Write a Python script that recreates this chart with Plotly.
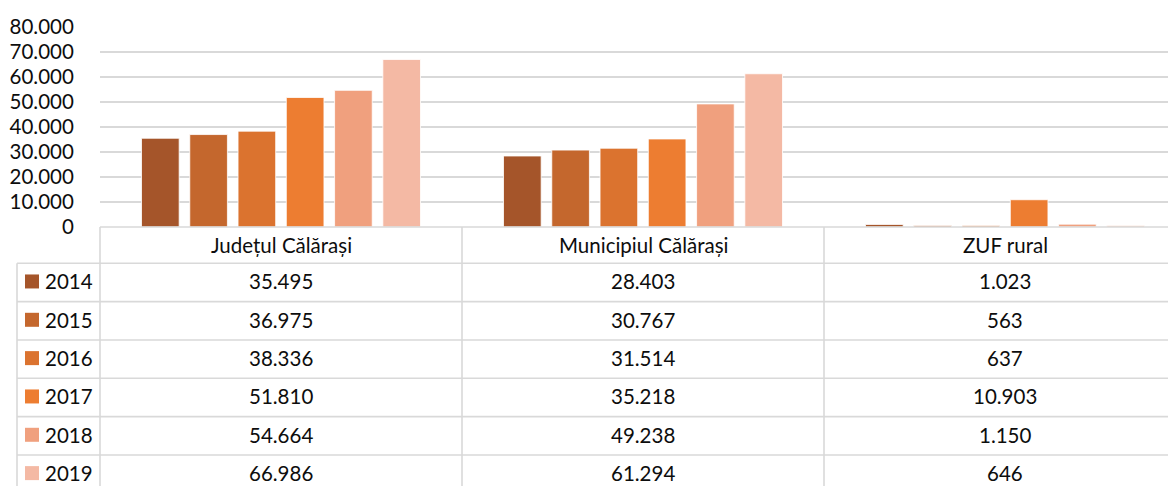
import plotly.graph_objects as go

categories = ["Județul Călărași", "Municipiul Călărași", "ZUF rural"]
years = ["2014", "2015", "2016", "2017", "2018", "2019"]
v2014 = [35495, 28403, 1023]
v2015 = [36975, 30767, 563]
v2016 = [38336, 31514, 637]
v2017 = [51810, 35218, 10903]
v2018 = [54664, 49238, 1150]
v2019 = [66986, 61294, 646]
series = [v2014, v2015, v2016, v2017, v2018, v2019]
colors = ["#A5552A", "#C4672D", "#DB732F", "#ED7D31", "#F0A07E", "#F4B9A4"]
yticks = [0, 10000, 20000, 30000, 40000, 50000, 60000, 70000, 80000]

FONT = "Lato"
TXT = "#0D0D0D"
GRID = "#D9D9D9"

# the page body adds an 8px margin; build the figure in page pixels and shift
OFF = 8
W_FIG, H_FIG = 1176, 486 - OFF
L, T, PW, PH = 100, 27, 1084, 200   # page-pixel geometry of the plot area
CATW = 362.0
xr = [-0.5, -0.5 + PW / CATW]


def px(x):
    return (x - L) / PW


def py(y):
    return (T + PH - y) / PH


def fmt(v):
    return f"{v:,}".replace(",", ".")


fig = go.Figure()
for yr, vals, c in zip(years, series, colors):
    fig.add_trace(go.Bar(
        x=list(range(len(categories))), y=vals, name=yr,
        marker=dict(color=c, line=dict(color="white", width=0.8)),
        showlegend=False,
    ))

shapes = []
annotations = []

header_top = 227
header_bot = 263.3
row_h = 38.33
n_rows = len(years)
row_lines = [header_bot + i * row_h for i in range(n_rows + 1)]
bottom = 500
col_edges_x = [(-0.5 + i) for i in range(len(categories) + 1)]
col_px = [L + (e - xr[0]) * CATW for e in col_edges_x]

line = dict(color=GRID, width=1.6)
shapes.append(dict(type="line", xref="paper", yref="paper", x0=px(L), x1=px(1200),
                   y0=py(header_top), y1=py(header_top), line=line))
for yl in row_lines:
    shapes.append(dict(type="line", xref="paper", yref="paper", x0=px(17), x1=px(1200),
                       y0=py(yl), y1=py(yl), line=line))
shapes.append(dict(type="line", xref="paper", yref="paper", x0=px(17), x1=px(17),
                   y0=py(header_bot), y1=py(bottom), line=line))
for cx in col_px:
    shapes.append(dict(type="line", xref="paper", yref="paper", x0=px(cx), x1=px(cx),
                       y0=py(header_top), y1=py(bottom), line=line))

for i, cat in enumerate(categories):
    cx = L + (i - xr[0]) * CATW
    annotations.append(dict(x=px(cx), y=py((header_top + header_bot) / 2), xref="paper", yref="paper",
                            text=cat, showarrow=False, xanchor="center", yanchor="middle",
                            font=dict(family=FONT, size=20.5, color=TXT)))

for r, (yr, vals, c) in enumerate(zip(years, series, colors)):
    yc = header_bot + (r + 0.5) * row_h - 1
    shapes.append(dict(type="rect", xref="paper", yref="paper", x0=px(25), x1=px(39),
                       y0=py(yc - 7), y1=py(yc + 7), fillcolor=c, line=dict(width=0)))
    annotations.append(dict(x=px(43), y=py(yc), xref="paper", yref="paper", text=yr,
                            showarrow=False, xanchor="left", yanchor="middle",
                            font=dict(family=FONT, size=20.5, color=TXT)))
    for i, v in enumerate(vals):
        cx = L + (i - xr[0]) * CATW
        annotations.append(dict(x=px(cx), y=py(yc), xref="paper", yref="paper", text=fmt(v),
                                showarrow=False, xanchor="center", yanchor="middle",
                                font=dict(family=FONT, size=20.5, color=TXT)))

fig.update_layout(
    width=W_FIG, height=H_FIG,
    margin=dict(l=L - OFF, r=W_FIG - (L - OFF) - PW, t=T - OFF, b=H_FIG - (T - OFF) - PH, pad=0),
    paper_bgcolor="white", plot_bgcolor="white",
    barmode="group", bargap=0.2, bargroupgap=0.22,
    separators=",.",
    font=dict(family=FONT, size=20.5, color=TXT),
    shapes=shapes, annotations=annotations,
    xaxis=dict(range=xr, showticklabels=False, showgrid=False, zeroline=False,
               showline=False, ticks="", fixedrange=True),
    yaxis=dict(range=[0, 80000], tickvals=yticks, tickformat=",d",
               showgrid=True, gridcolor=GRID, gridwidth=1.6, zeroline=False,
               showline=False, ticks="outside", ticklen=21, tickcolor="rgba(0,0,0,0)",
               tickfont=dict(family=FONT, size=20.5, color=TXT), fixedrange=True),
)

fig.write_html("out.html")
